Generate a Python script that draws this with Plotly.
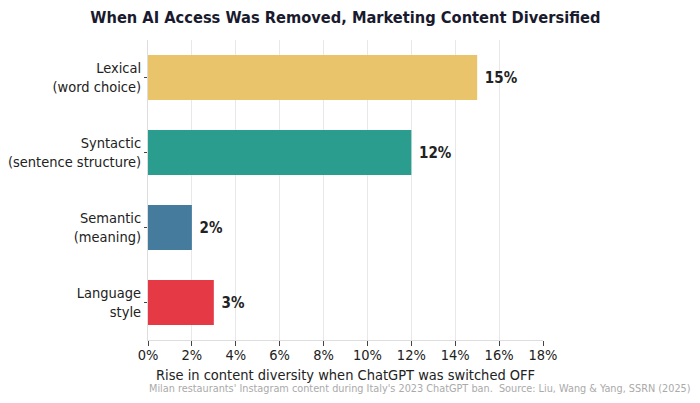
import plotly.graph_objects as go

categories = ["Lexical<br>(word choice)", "Syntactic<br>(sentence structure)", "Semantic<br>(meaning)", "Language<br>style"]
values = [15, 12, 2, 3]
colors = ["#E9C46A", "#2A9D8F", "#457B9D", "#E63946"]
tick_vals = [0, 2, 4, 6, 8, 10, 12, 14, 16, 18]
tick_text = [f"{v}%" for v in tick_vals]

FONT = "DejaVu Sans Condensed, DejaVu Sans, sans-serif"

fig = go.Figure()
fig.add_trace(go.Bar(
    y=categories, x=values, orientation="h",
    marker=dict(color=colors, line=dict(width=0)),
    width=0.6,
    text=[f"<b> {v}%</b>" for v in values],
    textposition="outside",
    textfont=dict(family=FONT, size=15, color="#222222"),
    cliponaxis=False,
    hoverinfo="skip",
))

fig.update_layout(
    width=700, height=403,
    margin=dict(l=140, r=165, t=32, b=71, autoexpand=False),
    paper_bgcolor="white", plot_bgcolor="white",
    showlegend=False,
    title=dict(text="<b>When AI Access Was Removed, Marketing Content Diversified</b>",
               x=0.482, xanchor="center", y=0.978, yanchor="middle",
               font=dict(family=FONT, size=16.3, color="#1a1a2e")),
    font=dict(family=FONT, size=14, color="#222222"),
)
fig.update_xaxes(
    range=[0, 18], tickvals=tick_vals, ticktext=tick_text,
    showgrid=True, gridcolor="#e8e8e8", gridwidth=1,
    showline=True, linecolor="#dddddd", linewidth=1,
    ticks="outside", ticklen=5, tickcolor="#444444",
    ticklabelstandoff=-3,
    tickfont=dict(family=FONT, size=14.5, color="#222222"),
    zeroline=False, automargin=False,
)
fig.update_yaxes(
    range=[3.5, -0.5], autorange=False,
    showline=True, linecolor="#dddddd", linewidth=1,
    ticks="outside", ticklen=3, tickcolor="#444444",
    tickfont=dict(family=FONT, size=14.5, color="#222222"),
    showgrid=False, zeroline=False, automargin=False,
)

fig.add_annotation(
    text="Rise in content diversity when ChatGPT was switched OFF",
    xref="paper", yref="paper", x=0.5, y=-0.117, xanchor="center", yanchor="middle",
    showarrow=False, font=dict(family=FONT, size=14.5, color="#222222"),
)
fig.add_annotation(
    text="Milan restaurants' Instagram content during Italy's 2023 ChatGPT ban.  Source: Liu, Wang & Yang, SSRN (2025)",
    xref="paper", yref="paper", x=1.38, y=-0.16, xanchor="right", yanchor="middle",
    showarrow=False, font=dict(family=FONT, size=10.8, color="#aaaaaa"),
)

fig.write_html("out.html")
